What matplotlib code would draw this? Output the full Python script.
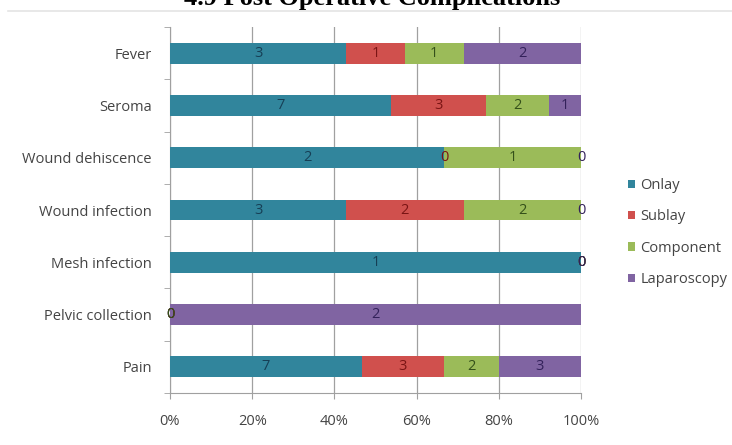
import matplotlib.pyplot as plt
import numpy as np
from matplotlib.lines import Line2D
from matplotlib.patches import Patch

# Post operative complications by surgical technique (counts)
categories = ['Fever', 'Seroma', 'Wound dehiscence', 'Wound infection',
              'Mesh infection', 'Pelvic collection', 'Pain']
techniques = ['Onlay', 'Sublay', 'Component', 'Laparoscopy']
onlay = [3, 7, 2, 3, 1, 0, 7]
sublay = [1, 3, 0, 2, 0, 0, 3]
component = [1, 2, 1, 2, 0, 0, 2]
laparoscopy = [2, 1, 0, 0, 0, 2, 3]
x_ticks = [0, 20, 40, 60, 80, 100]

bar_colors = ['#31859C', '#D0504D', '#9BBB59', '#8064A2']
text_colors = ['#163F55', '#7A1414', '#34501A', '#33215A']

counts = np.array([onlay, sublay, component, laparoscopy], dtype=float)
totals = counts.sum(axis=0)
shares = counts / totals * 100

fig = plt.figure(figsize=(7.32, 4.45), dpi=100)
ax = fig.add_axes([170 / 732, 52 / 445, 411 / 732, 366 / 445])

ypos = np.arange(len(categories))
left = np.zeros(len(categories))
for i, name in enumerate(techniques):
    ax.barh(ypos, shares[i], left=left, height=0.4, color=bar_colors[i],
            label=name, zorder=3)
    for j in range(len(categories)):
        ax.text(left[j] + shares[i][j] / 2, ypos[j], f"{int(counts[i][j])}",
                ha='center', va='center', fontsize=10.5, color=text_colors[i],
                family='Open Sans', zorder=4)
    left += shares[i]

ax.set_xlim(0, 100)
ax.set_ylim(len(categories) - 0.5, -0.5)
ax.set_xticks(x_ticks)
ax.set_xticklabels([f"{t}%" for t in x_ticks])
ax.set_yticks(ypos)
ax.set_yticklabels(categories)
ax.set_yticks(np.arange(len(categories) + 1) - 0.5, minor=True)

ax.tick_params(axis='y', which='major', length=0, pad=13)
ax.tick_params(axis='y', which='minor', length=4, color='#A0A0A0')
ax.tick_params(axis='x', length=4, color='#A0A0A0', pad=11)
for lbl in ax.get_yticklabels() + ax.get_xticklabels():
    lbl.set_fontfamily('Open Sans')
    lbl.set_fontsize(10.5)
    lbl.set_color('#444444')

ax.grid(axis='x', color='#A0A0A0', linewidth=0.9, zorder=0)
for side in ['top', 'right']:
    ax.spines[side].set_visible(False)
for side in ['left', 'bottom']:
    ax.spines[side].set_color('#A0A0A0')

handles = [Patch(facecolor=c, label=t) for c, t in zip(bar_colors, techniques)]
leg = fig.legend(handles=handles, loc='upper left',
                 bbox_to_anchor=(615 / 732, 1 - 165 / 445), frameon=False,
                 handlelength=0.5, handleheight=0.5, handletextpad=0.35,
                 labelspacing=1.12, prop={'family': 'Open Sans', 'size': 10.5})
for t in leg.get_texts():
    t.set_color('#444444')

# heading sits at the top edge, above a thin frame line
fig.text(372 / 732, 1 + 1 / 445, '4.9 Post Operative Complications',
         ha='center', va='center', fontsize=19, fontweight='bold',
         family='Liberation Serif')
fig.add_artist(Line2D([8 / 732, 1], [1 - 11 / 445] * 2, color='#E4E4E4',
                      linewidth=1.2, transform=fig.transFigure))

fig.savefig('out.png', dpi=100)
